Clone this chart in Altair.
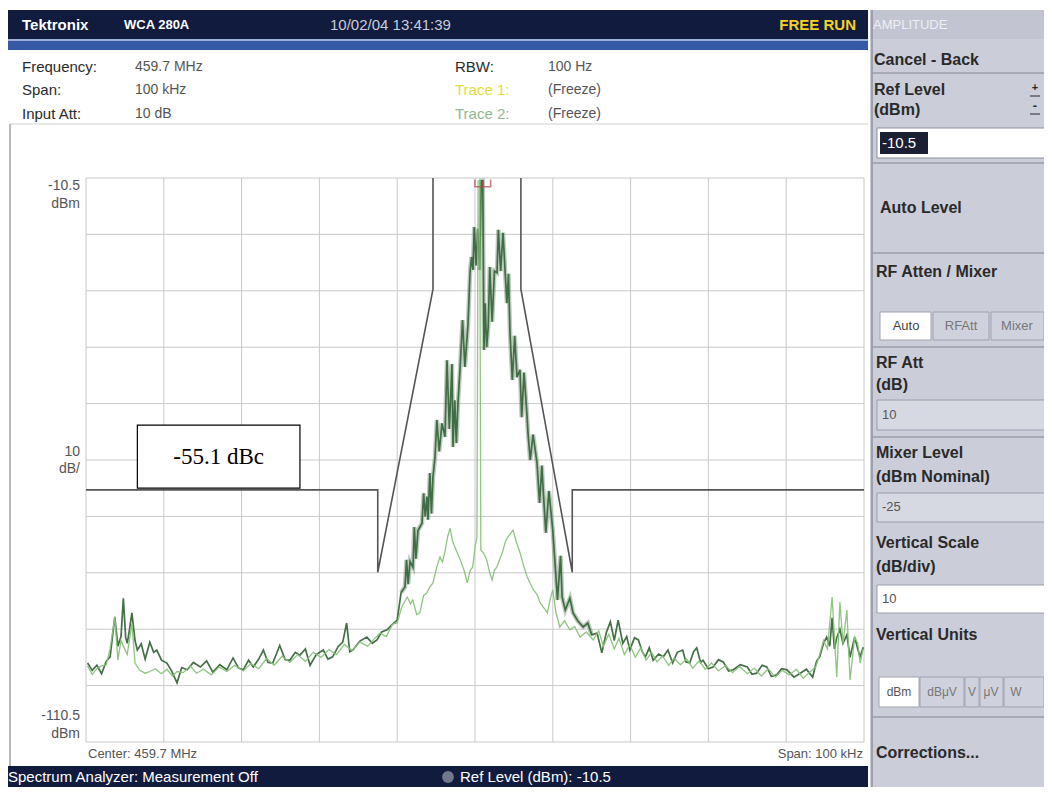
import altair as alt
import pandas as pd

# ---------------- data ----------------
GRID_KHZ = [-50, -40, -30, -20, -10, 0, 10, 20, 30, 40, 50]
GRID_DBM = [-110.5, -100.5, -90.5, -80.5, -70.5, -60.5, -50.5, -40.5, -30.5, -20.5, -10.5]

MASK_LEFT = [(-50, -65.8), (-12.5, -65.8), (-12.5, -80.4), (-5.4, -30.2), (-5.4, -10.5)]
MASK_RIGHT = [(5.9, -10.5), (5.9, -30.2), (12.5, -80.4), (12.5, -65.8), (50, -65.8)]

# trace 1 (dark green)
T1_LEFT = [(-49.8, -96.5), (-49.2, -97.8), (-48.6, -96.9), (-48.0, -98.4), (-47.4, -96.2), (-46.9, -95.4),
           (-46.3, -88.3), (-45.9, -93.5), (-45.5, -91.8), (-45.2, -85.0), (-44.9, -92.0), (-44.7, -93.0),
           (-44.4, -90.5), (-44.1, -87.6), (-43.7, -92.5), (-43.4, -94.2), (-42.9, -93.1), (-42.4, -95.8),
           (-41.8, -92.8), (-41.3, -94.6), (-40.9, -94.2), (-40.3, -96.0), (-39.6, -96.5), (-39.0, -97.9),
           (-38.3, -100.0), (-37.7, -97.3), (-37.0, -97.7), (-36.2, -96.4), (-35.3, -97.2), (-34.5, -96.1),
           (-33.7, -98.1), (-32.8, -96.8), (-31.9, -97.7), (-31.1, -95.6), (-30.4, -97.4), (-29.8, -97.7),
           (-29.1, -96.0), (-28.5, -97.2), (-27.8, -95.8), (-27.2, -94.2), (-26.6, -96.4), (-26.0, -96.5),
           (-25.5, -94.8), (-25.1, -93.4), (-24.4, -95.9), (-23.8, -96.0), (-23.1, -94.6), (-22.5, -95.1),
           (-21.8, -94.0), (-21.2, -96.9), (-20.4, -95.0), (-19.5, -94.2), (-18.9, -95.8), (-18.3, -95.4),
           (-17.6, -93.6), (-17.0, -92.8), (-16.5, -89.4), (-16.1, -94.5), (-15.7, -94.2), (-14.8, -92.6),
           (-13.9, -91.9), (-13.2, -93.0), (-12.6, -92.4), (-12.0, -91.0), (-11.3, -90.6), (-10.6, -89.6),
           (-10.0, -88.9)]
T1_CENTER = [(-9.5, -84.0), (-9.0, -83.0), (-8.8, -78.2), (-8.6, -82.5), (-8.35, -78.5), (-7.97, -79.5),
             (-7.8, -72.4), (-7.6, -78.0), (-7.33, -73.0), (-6.81, -71.7), (-6.6, -66.4), (-6.4, -70.5),
             (-6.17, -67.0), (-6.04, -71.1), (-5.8, -62.8), (-5.6, -70.0), (-5.4, -63.5), (-5.14, -60.0),
             (-4.9, -53.4), (-4.6, -59.0), (-4.24, -54.0), (-3.86, -56.4), (-3.6, -42.8), (-3.3, -55.0),
             (-2.96, -43.5), (-2.83, -58.2), (-2.6, -49.9), (-2.4, -57.5), (-2.19, -50.5), (-1.93, -44.5),
             (-1.6, -35.7), (-1.3, -44.0), (-0.9, -36.5), (-0.64, -27.3), (-0.45, -24.5), (-0.26, -26.8),
             (-0.1, -19.2), (0.15, -26.0), (0.35, -19.5), (0.6, -26.8), (0.8, -11.0), (1.0, -11.0),
             (1.15, -41.0), (1.3, -32.7), (1.5, -40.5), (1.7, -36.9), (1.9, -26.3), (2.2, -36.0),
             (2.5, -27.0), (2.83, -27.3), (3.0, -19.7), (3.3, -27.0), (3.6, -20.2), (3.86, -26.8),
             (4.1, -32.7), (4.3, -27.5), (4.5, -38.0), (4.8, -46.3), (5.1, -38.5), (5.4, -45.8),
             (5.78, -44.5), (6.0, -52.9), (6.3, -45.0), (6.68, -52.5), (6.81, -55.7), (7.1, -60.5),
             (7.46, -56.0), (7.97, -61.0), (8.3, -68.1), (8.6, -61.5), (8.74, -65.3), (9.1, -73.4),
             (9.5, -66.0), (10.0, -73.0), (10.2, -77.0), (10.6, -85.3), (11.0, -77.5), (11.2, -84.8),
             (11.6, -87.1), (12.2, -85.0), (12.6, -87.6), (13.2, -89.0), (13.9, -90.1), (14.5, -89.4),
             (15.0, -91.5)]
T1_RIGHT = [(15.7, -91.2), (16.3, -94.7), (16.9, -91.0), (17.4, -89.2), (17.9, -92.5), (18.4, -88.9),
            (19.0, -93.0), (19.5, -91.8), (19.9, -94.2), (20.5, -92.0), (21.0, -92.4), (21.5, -94.5),
            (21.9, -95.4), (22.4, -93.8), (22.9, -96.0), (23.6, -94.9), (24.2, -95.4), (24.8, -94.2),
            (25.4, -96.5), (26.0, -94.6), (26.7, -94.2), (27.1, -96.3), (27.6, -96.5), (28.1, -94.5),
            (28.5, -93.8), (29.0, -96.4), (29.3, -96.0), (30.0, -97.5), (30.6, -97.2), (31.3, -95.9),
            (31.9, -96.3), (32.6, -97.9), (33.2, -97.7), (34.1, -96.8), (35.0, -97.2), (35.6, -98.5),
            (36.2, -98.3), (36.9, -96.9), (37.5, -97.2), (38.1, -98.9), (38.8, -98.6), (39.4, -97.5),
            (40.1, -97.7), (41.0, -99.0), (41.8, -98.3), (42.6, -97.6), (43.4, -99.0), (43.9, -96.2),
            (44.3, -95.4), (44.8, -93.0), (45.2, -91.9), (45.6, -93.5), (45.9, -88.5), (46.2, -94.0),
            (46.5, -92.0), (46.9, -90.5), (47.3, -93.0), (47.8, -91.5), (48.2, -95.5), (48.8, -91.9),
            (49.2, -94.0), (49.5, -95.4), (49.9, -93.7)]

# trace 2 (light green)
T2_LEFT = [(-49.8, -97.0), (-49.2, -98.5), (-48.6, -97.5), (-48.0, -97.0), (-47.4, -96.8), (-46.9, -94.0),
           (-46.3, -88.3), (-45.9, -96.0), (-45.5, -92.5), (-45.2, -93.5), (-44.7, -95.0), (-44.1, -89.5),
           (-43.7, -96.5), (-43.1, -97.8), (-42.4, -98.3), (-41.8, -98.0), (-41.1, -97.5), (-40.3, -98.4),
           (-39.6, -97.6), (-38.9, -98.8), (-38.3, -98.0), (-37.5, -98.2), (-36.6, -97.0), (-35.8, -98.3),
           (-34.9, -97.6), (-33.9, -98.6), (-32.9, -97.2), (-31.9, -98.0), (-30.9, -96.9), (-29.8, -97.9),
           (-28.8, -96.6), (-27.8, -97.5), (-26.8, -95.7), (-25.8, -96.9), (-24.8, -95.3), (-23.8, -96.4),
           (-22.8, -95.0), (-21.8, -96.2), (-20.8, -94.6), (-19.8, -95.5), (-18.8, -94.1), (-17.8, -95.0),
           (-16.8, -93.2), (-15.8, -94.3), (-14.8, -92.8), (-13.8, -93.5), (-12.8, -92.0), (-12.2, -91.2),
           (-11.4, -91.8), (-10.6, -89.6)]
T2_CENTER = [(-10.0, -89.4), (-9.4, -86.5), (-8.7, -84.8), (-8.3, -86.0), (-8.0, -85.3), (-7.5, -87.9),
             (-7.1, -87.6), (-6.6, -84.5), (-6.2, -84.1), (-5.8, -83.0), (-5.4, -82.3), (-4.9, -79.4),
             (-4.5, -77.7), (-4.2, -78.6), (-3.9, -77.0), (-3.5, -74.0), (-3.2, -72.6), (-2.9, -74.8),
             (-2.6, -75.9), (-2.2, -77.2), (-1.9, -78.2), (-1.4, -80.1), (-1.0, -82.3), (-0.6, -80.0),
             (-0.3, -79.5), (0.0, -76.0), (0.25, -74.2), (0.4, -11.0), (0.6, -11.0), (0.75, -76.5),
             (1.1, -77.0), (1.5, -78.2), (1.9, -80.5), (2.2, -81.8), (2.5, -80.0), (2.8, -79.5),
             (3.2, -78.0), (3.5, -77.0), (3.9, -75.0), (4.2, -74.2), (4.6, -73.5), (4.9, -72.9),
             (5.3, -75.0), (5.8, -77.0), (6.2, -79.0), (6.7, -81.2), (7.1, -82.4), (7.5, -83.5),
             (8.0, -84.4), (8.4, -85.9), (8.9, -86.8), (9.3, -87.6), (9.7, -85.0), (10.0, -83.5),
             (10.4, -87.5), (10.9, -90.1), (11.5, -89.0), (12.2, -90.6), (12.8, -90.0), (13.5, -91.9),
             (14.3, -91.0)]
T2_RIGHT = [(15.2, -92.4), (15.9, -90.8), (16.5, -93.5), (17.2, -91.4), (17.9, -94.0), (18.5, -92.1),
            (19.2, -95.0), (19.9, -93.2), (20.6, -95.5), (21.3, -93.8), (22.0, -96.0), (22.7, -94.6),
            (23.4, -96.3), (24.1, -95.2), (24.9, -96.9), (25.6, -95.6), (26.4, -96.8), (27.2, -95.8),
            (28.0, -97.4), (28.8, -96.1), (29.6, -97.6), (30.4, -96.5), (31.3, -97.9), (32.2, -96.9),
            (33.1, -98.2), (34.0, -97.1), (35.0, -98.4), (35.9, -97.4), (36.8, -98.8), (37.7, -97.5),
            (38.6, -99.0), (39.5, -97.8), (40.4, -98.6), (41.3, -97.6), (42.2, -99.2), (43.1, -98.0),
            (43.8, -97.2), (44.3, -95.0), (44.8, -92.5), (45.3, -94.0), (45.9, -84.8), (46.5, -99.0),
            (46.9, -85.7), (47.3, -93.0), (47.8, -87.1), (48.2, -99.5), (48.8, -91.9), (49.2, -93.0),
            (49.5, -96.5), (49.9, -94.0)]

MARKER = [(1.0, -11.4)]
ANNOT_BOX = [(-43.4, -54.3, -22.5, -65.5)]
ANNOT_TEXT = "-55.1 dBc"

# ---------------- helpers ----------------
UI = "Liberation Sans"
OFF = 8
one = pd.DataFrame({"k": [0]})
base = alt.Chart(one)


def rect(x1, y1, x2, y2, fill, stroke="", sw=0):
    kw = dict(fill=fill)
    if stroke:
        kw.update(stroke=stroke, strokeWidth=sw)
    return base.mark_rect(**kw).encode(
        x=alt.value(x1 - OFF), x2=alt.value(x2 - OFF), y=alt.value(y1 - OFF), y2=alt.value(y2 - OFF))


def hline(x1, x2, y, color, w=1):
    return base.mark_rule(color=color, strokeWidth=w).encode(
        x=alt.value(x1 - OFF), x2=alt.value(x2 - OFF), y=alt.value(y - OFF))


def vline(x, y1, y2, color, w=1):
    return base.mark_rule(color=color, strokeWidth=w).encode(
        x=alt.value(x - OFF), y=alt.value(y1 - OFF), y2=alt.value(y2 - OFF))


def txt(s, x, y, size=15, color="#2a2a2a", weight="normal", align="left", font=UI):
    return base.mark_text(text=s, fontSize=size, color=color, fontWeight=weight, align=align,
                          baseline="middle", font=font).encode(x=alt.value(x - OFF), y=alt.value(y - OFF))


XS = alt.Scale(domain=[-50, 50], range=[86 - OFF, 864 - OFF], nice=False, zero=False)
YS = alt.Scale(domain=[-110.5, -10.5], range=[742 - OFF, 178 - OFF], nice=False, zero=False)


def X(f):
    return alt.X(f, type="quantitative", scale=XS, axis=None)


def Y(f):
    return alt.Y(f, type="quantitative", scale=YS, axis=None)


def trace_df(*parts):
    pts = [p for part in parts for p in part]
    return pd.DataFrame({"khz": [p[0] for p in pts], "dbm": [p[1] for p in pts], "i": range(len(pts))})


# ---------------- layers ----------------
layers = []

# backgrounds of the instrument screen
layers.append(rect(0, 0, 1052, 795, "#ffffff"))
layers.append(rect(5, 10, 868, 39, "#111b3d"))
layers.append(rect(5, 39, 868, 41, "#9db0d8"))
layers.append(rect(5, 41, 868, 50, "#3659a6"))
layers.append(rect(870, 10, 1052, 795, "#cbced9"))
layers.append(rect(870, 10, 1052, 39, "#c2c5d1"))
layers.append(vline(872, 10, 795, "#8e92a0", 1.5))
layers.append(vline(10, 124, 766, "#b9b9b9", 2))
layers.append(hline(10, 868, 124, "#d0d0d0", 1))
layers.append(rect(0, 766, 868, 795, "#111b3d"))

# grid
gx = pd.DataFrame({"k": GRID_KHZ, "lo": GRID_DBM[0], "hi": GRID_DBM[-1]})
gy = pd.DataFrame({"d": GRID_DBM, "lo": GRID_KHZ[0], "hi": GRID_KHZ[-1]})
layers.append(alt.Chart(gx).mark_rule(color="#c9c9c9", strokeWidth=1).encode(
    x=X("k"), y=Y("lo"), y2="hi"))
layers.append(alt.Chart(gy).mark_rule(color="#c9c9c9", strokeWidth=1).encode(
    y=Y("d"), x=X("lo"), x2="hi"))

# limit mask
mask = pd.DataFrame({
    "khz": [p[0] for p in MASK_LEFT + MASK_RIGHT],
    "dbm": [p[1] for p in MASK_LEFT + MASK_RIGHT],
    "seg": ["L"] * len(MASK_LEFT) + ["R"] * len(MASK_RIGHT),
    "i": list(range(len(MASK_LEFT) + len(MASK_RIGHT))),
})
layers.append(alt.Chart(mask).mark_line(color="#555555", strokeWidth=1.6).encode(
    x=X("khz"), y=Y("dbm"), detail="seg:N", order="i:Q"))

# annotation box
box = pd.DataFrame({"x1": [b[0] for b in ANNOT_BOX], "y1": [b[1] for b in ANNOT_BOX],
                    "x2": [b[2] for b in ANNOT_BOX], "y2": [b[3] for b in ANNOT_BOX]})
layers.append(alt.Chart(box).mark_rect(fill="#ffffff", stroke="#000000", strokeWidth=1.2).encode(
    x=X("x1"), x2="x2", y=Y("y1"), y2="y2"))
bt = pd.DataFrame({"cx": [(ANNOT_BOX[0][0] + ANNOT_BOX[0][2]) / 2],
                   "cy": [(ANNOT_BOX[0][1] + ANNOT_BOX[0][3]) / 2], "t": [ANNOT_TEXT]})
layers.append(alt.Chart(bt).mark_text(font="Liberation Serif", fontSize=23, color="#000000",
                                      align="center", baseline="middle").encode(
    x=X("cx"), y=Y("cy"), text="t:N"))

# traces
t1 = trace_df(T1_LEFT, T1_CENTER, T1_RIGHT)
t1c = trace_df(T1_CENTER)
t2 = trace_df(T2_LEFT, T2_CENTER, T2_RIGHT)
# soft halo under the dark trace's central part, which in the screenshot looks like filled bars
layers.append(alt.Chart(t1c).mark_line(color="#6f8f70", strokeWidth=4.5, opacity=0.45).encode(
    x=X("khz"), y=Y("dbm"), order="i:Q"))
layers.append(alt.Chart(t1).mark_line(color="#3a673d", strokeWidth=1.7, opacity=0.95).encode(
    x=X("khz"), y=Y("dbm"), order="i:Q"))
layers.append(alt.Chart(t2).mark_line(color="#88c27a", strokeWidth=1.3, opacity=0.95).encode(
    x=X("khz"), y=Y("dbm"), order="i:Q"))

# marker at top
mk = pd.DataFrame({"khz": [m[0] for m in MARKER], "dbm": [m[1] for m in MARKER]})
layers.append(alt.Chart(mk).mark_point(shape="M-1.5,-0.7L-1.5,0.7L1.5,0.7L1.5,-0.7M0,0.7L0,-0.4",
                                       size=110, filled=False, color="#b5484a", strokeWidth=1.6).encode(
    x=X("khz"), y=Y("dbm")))

# header texts
layers.append(txt("Tektronix", 22, 25, 15, "#ffffff", "bold"))
layers.append(txt("WCA 280A", 124, 25, 13, "#ffffff", "bold"))
layers.append(txt("10/02/04 13:41:39", 330, 25, 15, "#c9cedb"))
layers.append(txt("FREE RUN", 856, 25, 15, "#f2d22a", "bold", "right"))

# info block
layers.append(txt("Frequency:", 22, 67, 15, "#2a2a2a"))
layers.append(txt("459.7 MHz", 135, 67, 14, "#555555"))
layers.append(txt("Span:", 22, 90, 15, "#2a2a2a"))
layers.append(txt("100 kHz", 135, 90, 14, "#555555"))
layers.append(txt("Input Att:", 22, 114, 15, "#2a2a2a"))
layers.append(txt("10 dB", 135, 114, 14, "#555555"))
layers.append(txt("RBW:", 455, 67, 15, "#2a2a2a"))
layers.append(txt("100 Hz", 548, 67, 14, "#555555"))
layers.append(txt("Trace 1:", 455, 90, 15, "#e4dc3a"))
layers.append(txt("(Freeze)", 548, 90, 14, "#555555"))
layers.append(txt("Trace 2:", 455, 114, 15, "#8fb88f"))
layers.append(txt("(Freeze)", 548, 114, 14, "#555555"))

# axis-like labels of the display
layers.append(txt("-10.5", 80, 186, 14, "#555555", align="right"))
layers.append(txt("dBm", 80, 204, 14, "#555555", align="right"))
layers.append(txt("10", 80, 452, 14, "#555555", align="right"))
layers.append(txt("dB/", 80, 469, 14, "#555555", align="right"))
layers.append(txt("-110.5", 80, 716, 14, "#555555", align="right"))
layers.append(txt("dBm", 80, 734, 14, "#555555", align="right"))
layers.append(txt("Center: 459.7 MHz", 88, 754, 13, "#555555"))
layers.append(txt("Span: 100 kHz", 863, 754, 13, "#555555", align="right"))

# status bar (squeezed into the drawable area that ends at y = 787)
layers.append(txt("Spectrum Analyzer: Measurement Off", 8, 777, 15, "#ffffff"))
layers.append(base.mark_point(shape="circle", size=140, filled=True, color="#9aa0ad").encode(
    x=alt.value(448 - OFF), y=alt.value(777 - OFF)))
layers.append(txt("Ref Level (dBm): -10.5", 460, 777, 15, "#ffffff"))

# right menu panel
P = "#2a2a2a"
layers.append(txt("AMPLITUDE", 873, 25, 13, "#eeeef3"))
layers.append(txt("Cancel - Back", 874, 60, 16, P, "bold"))
layers.append(hline(872, 1052, 73, "#9a9eab", 1.5))
layers.append(txt("Ref Level", 874, 90, 16, P, "bold"))
layers.append(txt("(dBm)", 874, 110, 16, P, "bold"))
layers.append(txt("+", 1035, 88, 11, P, "bold", "center"))
layers.append(hline(1030, 1040, 96, P, 1))
layers.append(txt("-", 1035, 106, 13, P, "bold", "center"))
layers.append(hline(1030, 1040, 114, P, 1))
layers.append(rect(877, 128, 1052, 158, "#ffffff", "#8c909c", 1))
layers.append(rect(880, 132, 928, 154, "#1a1f33"))
layers.append(txt("-10.5", 882, 143, 15, "#ffffff"))
layers.append(hline(872, 1052, 163, "#9a9eab", 1.5))
layers.append(txt("Auto Level", 880, 208, 16, P, "bold"))
layers.append(hline(872, 1052, 253, "#9a9eab", 1.5))
layers.append(txt("RF Atten / Mixer", 876, 272, 16, P, "bold"))
layers.append(rect(880, 312, 931, 340, "#ffffff", "#a0a4b0", 1))
layers.append(rect(933, 312, 989, 340, "#cfd2dc", "#a0a4b0", 1))
layers.append(rect(991, 312, 1044, 340, "#cfd2dc", "#a0a4b0", 1))
layers.append(txt("Auto", 906, 326, 13, "#444444", align="center"))
layers.append(txt("RFAtt", 961, 326, 13, "#777777", align="center"))
layers.append(txt("Mixer", 1017, 326, 13, "#777777", align="center"))
layers.append(hline(872, 1052, 347, "#9a9eab", 1.5))
layers.append(txt("RF Att", 876, 363, 16, P, "bold"))
layers.append(txt("(dB)", 876, 385, 16, P, "bold"))
layers.append(rect(877, 400, 1052, 430, "#d6d9e2", "#9a9eab", 1))
layers.append(txt("10", 882, 415, 13, "#555555"))
layers.append(hline(872, 1052, 437, "#9a9eab", 1.5))
layers.append(txt("Mixer Level", 876, 453, 16, P, "bold"))
layers.append(txt("(dBm Nominal)", 876, 477, 16, P, "bold"))
layers.append(rect(877, 493, 1052, 522, "#d6d9e2", "#9a9eab", 1))
layers.append(txt("-25", 882, 507, 13, "#555555"))
layers.append(txt("Vertical Scale", 876, 543, 16, P, "bold"))
layers.append(txt("(dB/div)", 876, 567, 16, P, "bold"))
layers.append(rect(877, 585, 1052, 613, "#ffffff", "#9a9eab", 1))
layers.append(txt("10", 882, 599, 13, "#555555"))
layers.append(txt("Vertical Units", 876, 635, 16, P, "bold"))
layers.append(rect(879, 677, 919, 707, "#ffffff", "#a0a4b0", 1))
layers.append(rect(920, 677, 964, 707, "#cfd2dc", "#a0a4b0", 1))
layers.append(rect(965, 677, 979, 707, "#cfd2dc", "#a0a4b0", 1))
layers.append(rect(980, 677, 1003, 707, "#cfd2dc", "#a0a4b0", 1))
layers.append(rect(1004, 677, 1044, 707, "#cfd2dc", "#a0a4b0", 1))
layers.append(txt("dBm", 899, 692, 12, "#555555", align="center"))
layers.append(txt("dBμV", 942, 692, 12, "#777777", align="center"))
layers.append(txt("V", 972, 692, 12, "#777777", align="center"))
layers.append(txt("μV", 991, 692, 12, "#777777", align="center"))
layers.append(txt("W", 1016, 692, 12, "#777777", align="center"))
layers.append(hline(872, 1052, 717, "#9a9eab", 1.5))
layers.append(txt("Corrections...", 876, 753, 16, P, "bold"))

# the chart fills the page's drawable area: page (X, Y) = chart (X - 8, Y - 8)
chart = alt.layer(*layers).properties(
    width=1036, height=779, padding=0,
    autosize=alt.AutoSizeParams(type="none"),
).configure_view(stroke=None)

chart.save("out.html", embed_options={"renderer": "svg", "actions": False})
